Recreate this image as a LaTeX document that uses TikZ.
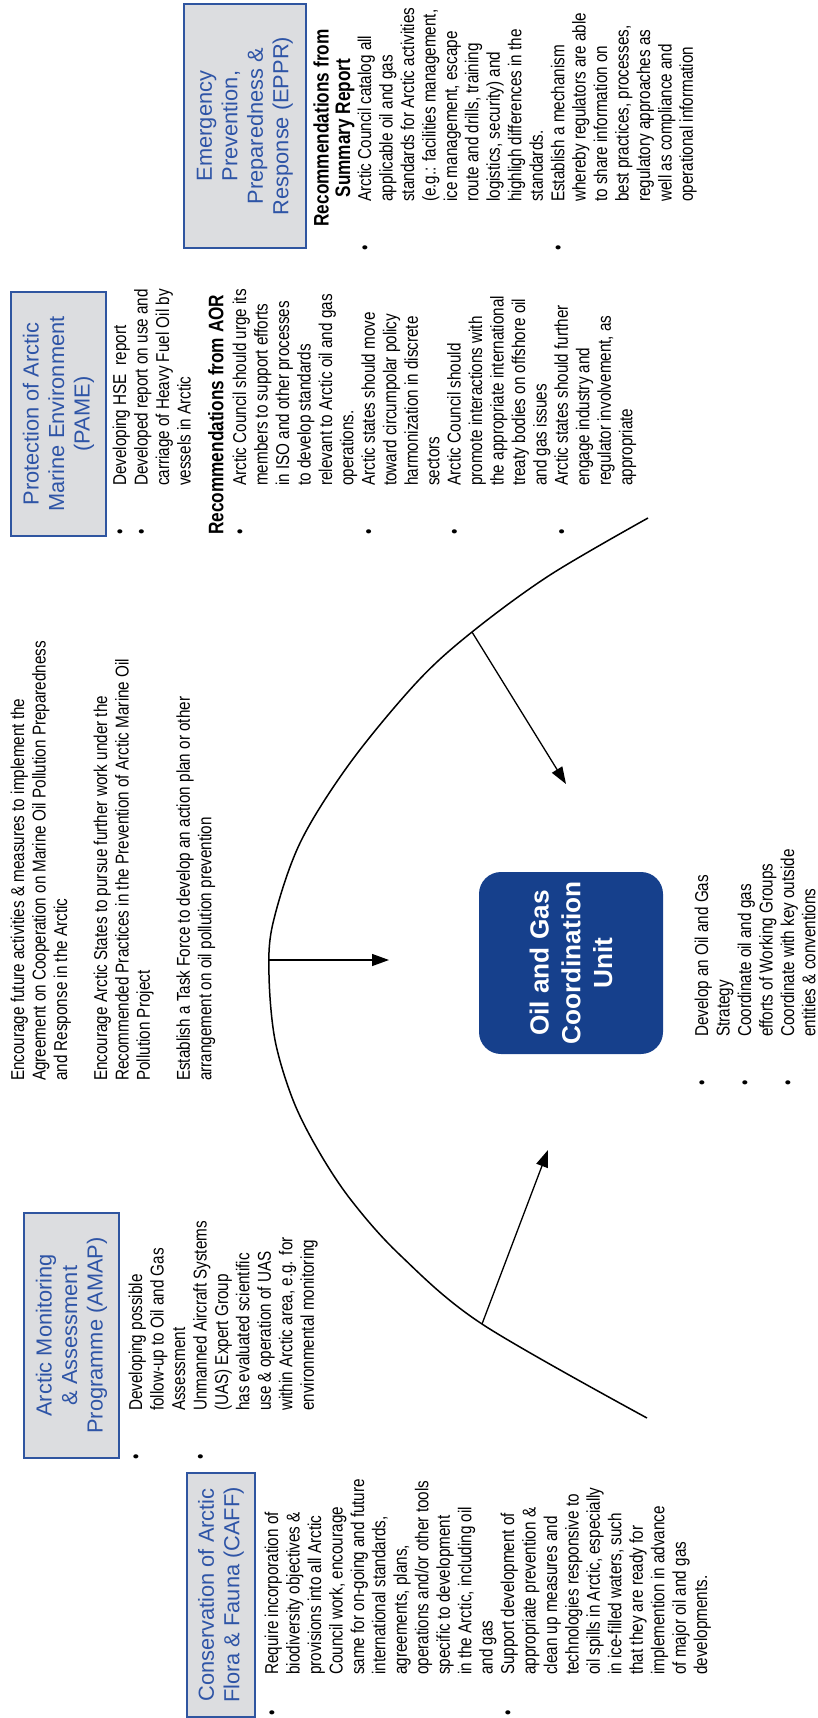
\documentclass[tikz,border=0pt]{standalone}
\usepackage{fontspec}
\setmainfont{Liberation Sans}
\newfontfamily\narrowfont[FakeStretch=0.82]{Liberation Sans}
\usetikzlibrary{arrows.meta}
\definecolor{boxgray}{RGB}{220,221,224}
\definecolor{boxblue}{RGB}{47,85,160}
\definecolor{titleblue}{RGB}{46,84,166}
\definecolor{ogblue}{RGB}{22,64,140}
\newcommand{\bodyfont}{\narrowfont\fontsize{18.6}{21.45}\selectfont}
\newcommand{\headfont}{\narrowfont\bfseries\fontsize{21}{21.45}\selectfont}
\newcommand{\titlefont}{\fontsize{21.8}{25.5}\selectfont}
\newcommand{\ogfont}{\bfseries\fontsize{26.2}{31.7}\selectfont}
\newcommand{\bulitem}{\makebox[49pt][l]{\textbullet}}
\newcommand{\bulind}{\hspace*{49pt}}
\newcommand{\bulitemb}{\makebox[41pt][l]{\textbullet}}
\newcommand{\bulindb}{\hspace*{41pt}}
\begin{document}
\begin{tikzpicture}[x=1pt,y=-1pt,
  txt/.style={rotate=90, anchor=north west, inner sep=0pt, align=left, font=\bodyfont},
  headtxt/.style={rotate=90, anchor=north west, inner sep=0pt, align=left, font=\headfont},
  wgbox/.style={rotate=90, draw=boxblue, line width=1.2pt, fill=boxgray, text=titleblue,
    font=\titlefont, align=center, inner sep=0pt},
  ogbox/.style={rotate=90, fill=ogblue, rounded corners=22pt, text=white, font=\ogfont,
    align=center, inner sep=0pt},
  arcline/.style={line width=1.5pt},
  arr/.style={line width=1.3pt, -{Triangle[length=17pt,width=12pt]}}]
\useasboundingbox (0,0) rectangle (817,1718);

% working group boxes
\node[wgbox, minimum width=244pt, minimum height=122pt] (eppr) at (245,126)
  {Emergency\\Prevention,\\Preparedness \&\\Response (EPPR)};
\node[wgbox, minimum width=244pt, minimum height=95pt] (pame) at (58.5,414)
  {Protection of Arctic\\Marine Environment\\(PAME)};
\node[wgbox, minimum width=245pt, minimum height=95pt] (amap) at (71.5,1335.5)
  {Arctic Monitoring\\\& Assessment\\Programme (AMAP)};
\node[wgbox, minimum width=244pt, minimum height=68pt] (caff) at (221,1595)
  {Conservation of Arctic\\Flora \& Fauna (CAFF)};

% central unit
\node[ogbox, minimum width=182pt, minimum height=184pt] (ogcu) at (571,963)
  {Oil and Gas\\Coordination\\Unit};

% PAME texts
\node[txt] (pamea) at (111,535)
  {\strut\bulitem Developing HSE~ report\\
   \bulitem Developed report on use and\\
   \bulind carriage of Heavy Fuel Oil by\\
   \bulind vessels in Arctic};
\node[headtxt] (aorh) at (208,535) {\strut Recommendations from AOR};
\node[txt] (aorb) at (231,535)
  {\strut\bulitem Arctic Council should urge its\\
   \bulind members to support efforts\\
   \bulind in ISO and other processes\\
   \bulind to develop standards\\
   \bulind relevant to Arctic oil and gas\\
   \bulind operations.\\
   \bulitem Arctic states should move\\
   \bulind toward circumpolar policy\\
   \bulind harmonization in discrete\\
   \bulind sectors\\
   \bulitem Arctic Council should\\
   \bulind promote interactions with\\
   \bulind the appropriate international\\
   \bulind treaty bodies on offshore oil\\
   \bulind and gas issues\\
   \bulitem Arctic states should further\\
   \bulind engage industry and\\
   \bulind regulator involvement, as\\
   \bulind appropriate};

% EPPR texts
\node[rotate=90, inner sep=0pt, align=center, font=\headfont] (epprh) at (334,128)
  {\strut Recommendations from\\Summary Report};
\node[txt] (epprb) at (356,251)
  {\strut\bulitem Arctic Council catalog all\\
   \bulind applicable oil and gas\\
   \bulind standards for Arctic activities\\
   \bulind (e.g.: facilities management,\\
   \bulind ice management, escape\\
   \bulind route and drills, training\\
   \bulind logistics, security) and\\
   \bulind highligh differences in the\\
   \bulind standards.\\
   \bulitem Establish a mechanism\\
   \bulind whereby regulators are able\\
   \bulind to share information on\\
   \bulind best practices, processes,\\
   \bulind regulatory approaches as\\
   \bulind well as compliance and\\
   \bulind operational information};

% middle text
\node[txt] (mid) at (9,1081)
  {\strut Encourage future activities \& measures to implement the\\
   Agreement on Cooperation on Marine Oil Pollution Preparedness\\
   and Response in the Arctic\\[18.5pt]
   Encourage Arctic States to pursue further work under the\\
   Recommended Practices in the Prevention of Arctic Marine Oil\\
   Pollution Project\\[18.5pt]
   Establish a Task Force to develop an action plan or other\\
   arrangement on oil pollution prevention};

% OGCU bullets
\node[txt] (ogb) at (693,1086)
  {\strut\bulitem Develop an Oil and Gas\\
   \bulind Strategy\\
   \bulitem Coordinate oil and gas\\
   \bulind efforts of Working Groups\\
   \bulitem Coordinate with key outside\\
   \bulind entities \& conventions};

% AMAP bullets
\node[txt] (amapb) at (127,1460)
  {\strut\bulitem Developing possible\\
   \bulind follow-up to Oil and Gas\\
   \bulind Assessment\\
   \bulitem Unmanned Aircraft Systems\\
   \bulind (UAS) Expert Group\\
   \bulind has evaluated scientific\\
   \bulind use \& operation of UAS\\
   \bulind within Arctic area, e.g. for\\
   \bulind environmental monitoring};

% CAFF bullets
\node[txt] (caffb) at (263,1716)
  {\strut\bulitemb Require incorporation of\\
   \bulindb biodiversity objectives \&\\
   \bulindb provisions into all Arctic\\
   \bulindb Council work, encourage\\
   \bulindb same for on-going and future\\
   \bulindb international standards,\\
   \bulindb agreements, plans,\\
   \bulindb operations and/or other tools\\
   \bulindb specific to development\\
   \bulindb in the Arctic, including oil\\
   \bulindb and gas\\
   \bulitemb Support development of\\
   \bulindb appropriate prevention \&\\
   \bulindb clean up measures and\\
   \bulindb technologies responsive to\\
   \bulindb oil spills in Arctic, especially\\
   \bulindb in ice-filled waters, such\\
   \bulindb that they are ready for\\
   \bulindb implemention in advance\\
   \bulindb of major oil and gas\\
   \bulindb developments.};

% the arc
\draw[arcline] plot[smooth, tension=0.55] coordinates {(648,518) (550,575) (472,632) (417,682)
  (350,763) (300,843) (273,923) (269,975) (275,1040) (293,1100) (318,1150) (351,1200)
  (400,1255) (482,1324) (647,1418)};

% arrows from the arc towards the unit
\coordinate (s1) at (472,632);
\coordinate (e1) at (566,784);
\coordinate (s2) at (269,960);
\coordinate (e2) at (389,960);
\coordinate (s3) at (482,1324);
\coordinate (e3) at (548,1150);
\draw[arr] (s1) -- (e1);
\draw[arr] (s2) -- (e2);
\draw[arr] (s3) -- (e3);
\end{tikzpicture}
\end{document}
